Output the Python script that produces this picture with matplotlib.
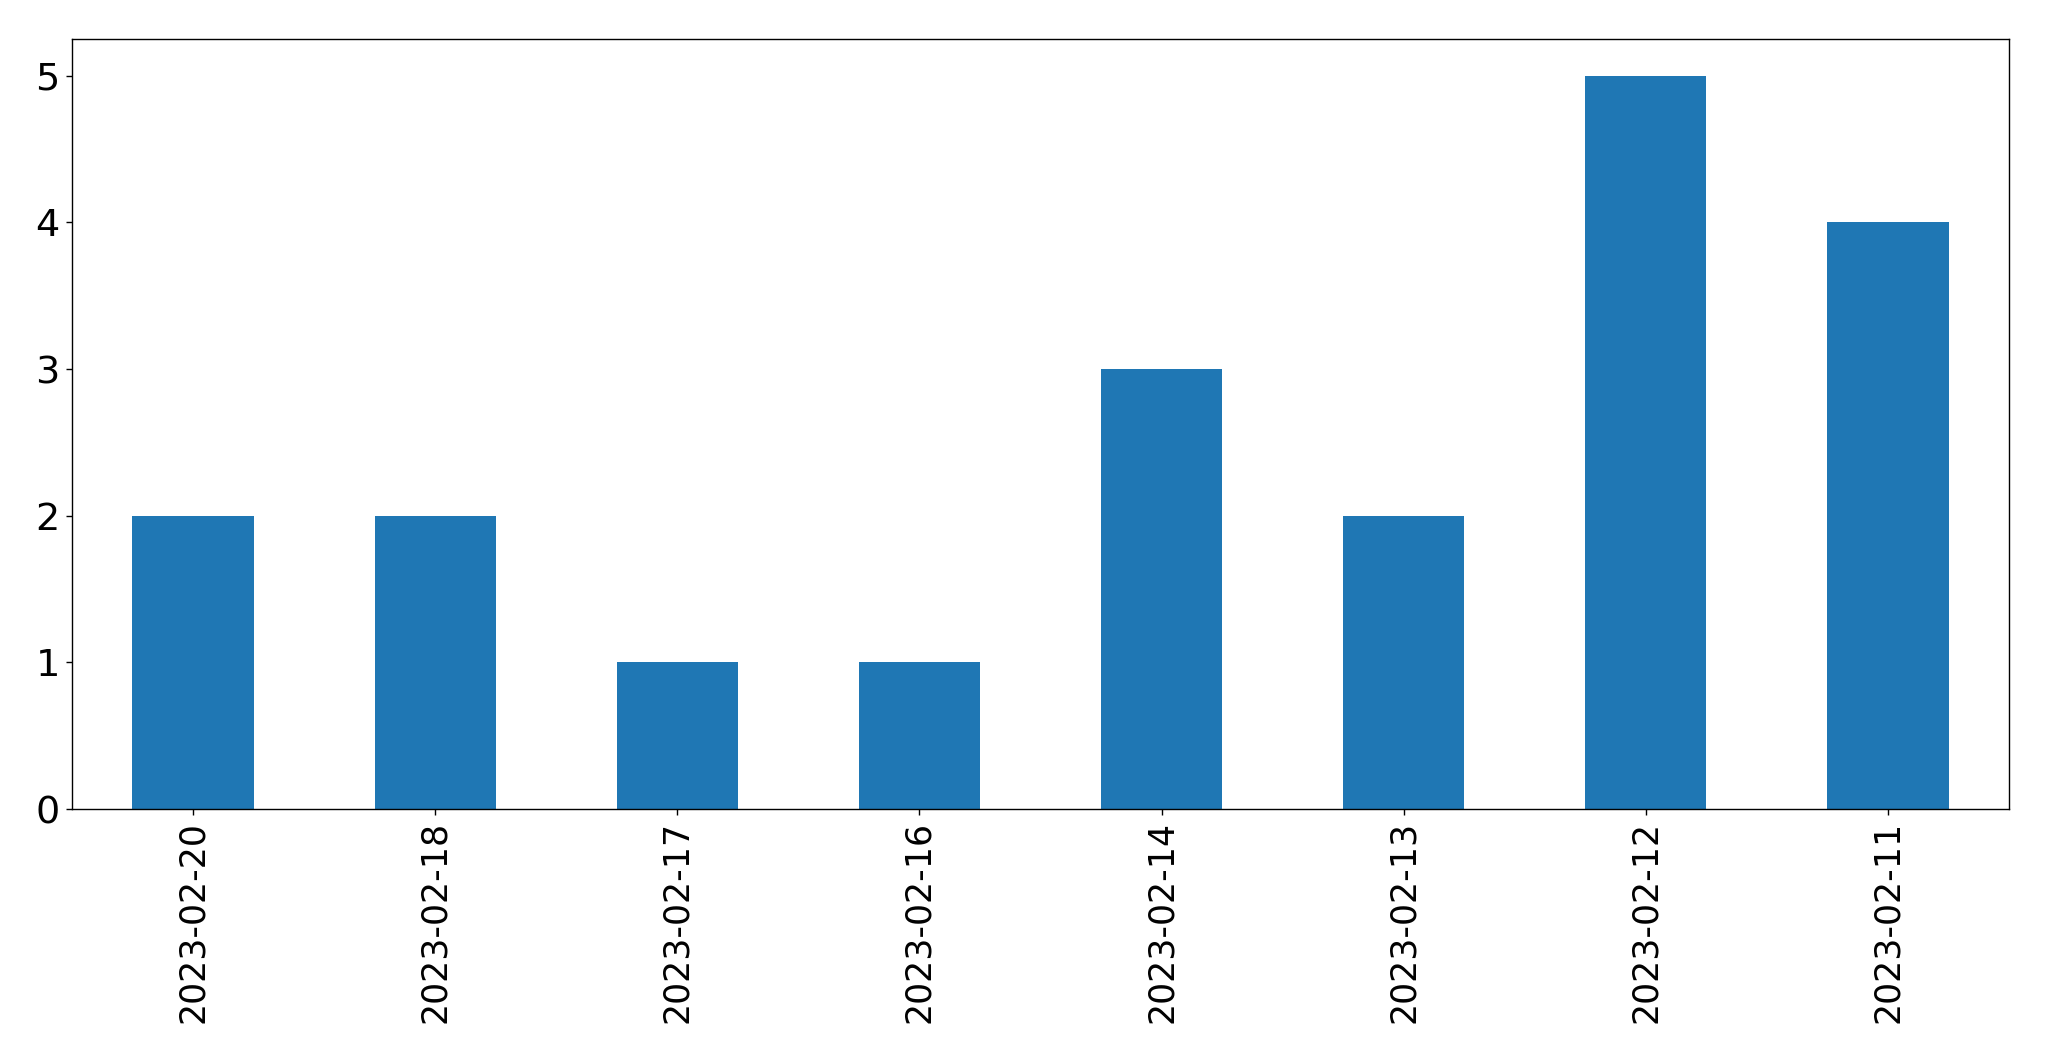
import pandas as pd
import matplotlib
matplotlib.use("Agg")
import matplotlib.pyplot as plt

dates = ['2023-02-20', '2023-02-18', '2023-02-17', '2023-02-16',
         '2023-02-14', '2023-02-13', '2023-02-12', '2023-02-11']
counts = [2, 2, 1, 1, 3, 2, 5, 4]

s = pd.Series(counts, index=dates)

dpi = 125
fig = plt.figure(figsize=(2049 / dpi, 1061 / dpi), dpi=dpi)
ax = fig.add_axes([0.0351, 0.2375, 0.9454, 0.7257])
s.plot(kind='bar', ax=ax, color='#1f77b4')
ax.tick_params(axis='x', labelsize=20)
ax.tick_params(axis='y', labelsize=22)
ax.set_xlabel('')
plt.setp(ax.get_xticklabels(), rotation=90)
fig.savefig('out.png', dpi=dpi)
